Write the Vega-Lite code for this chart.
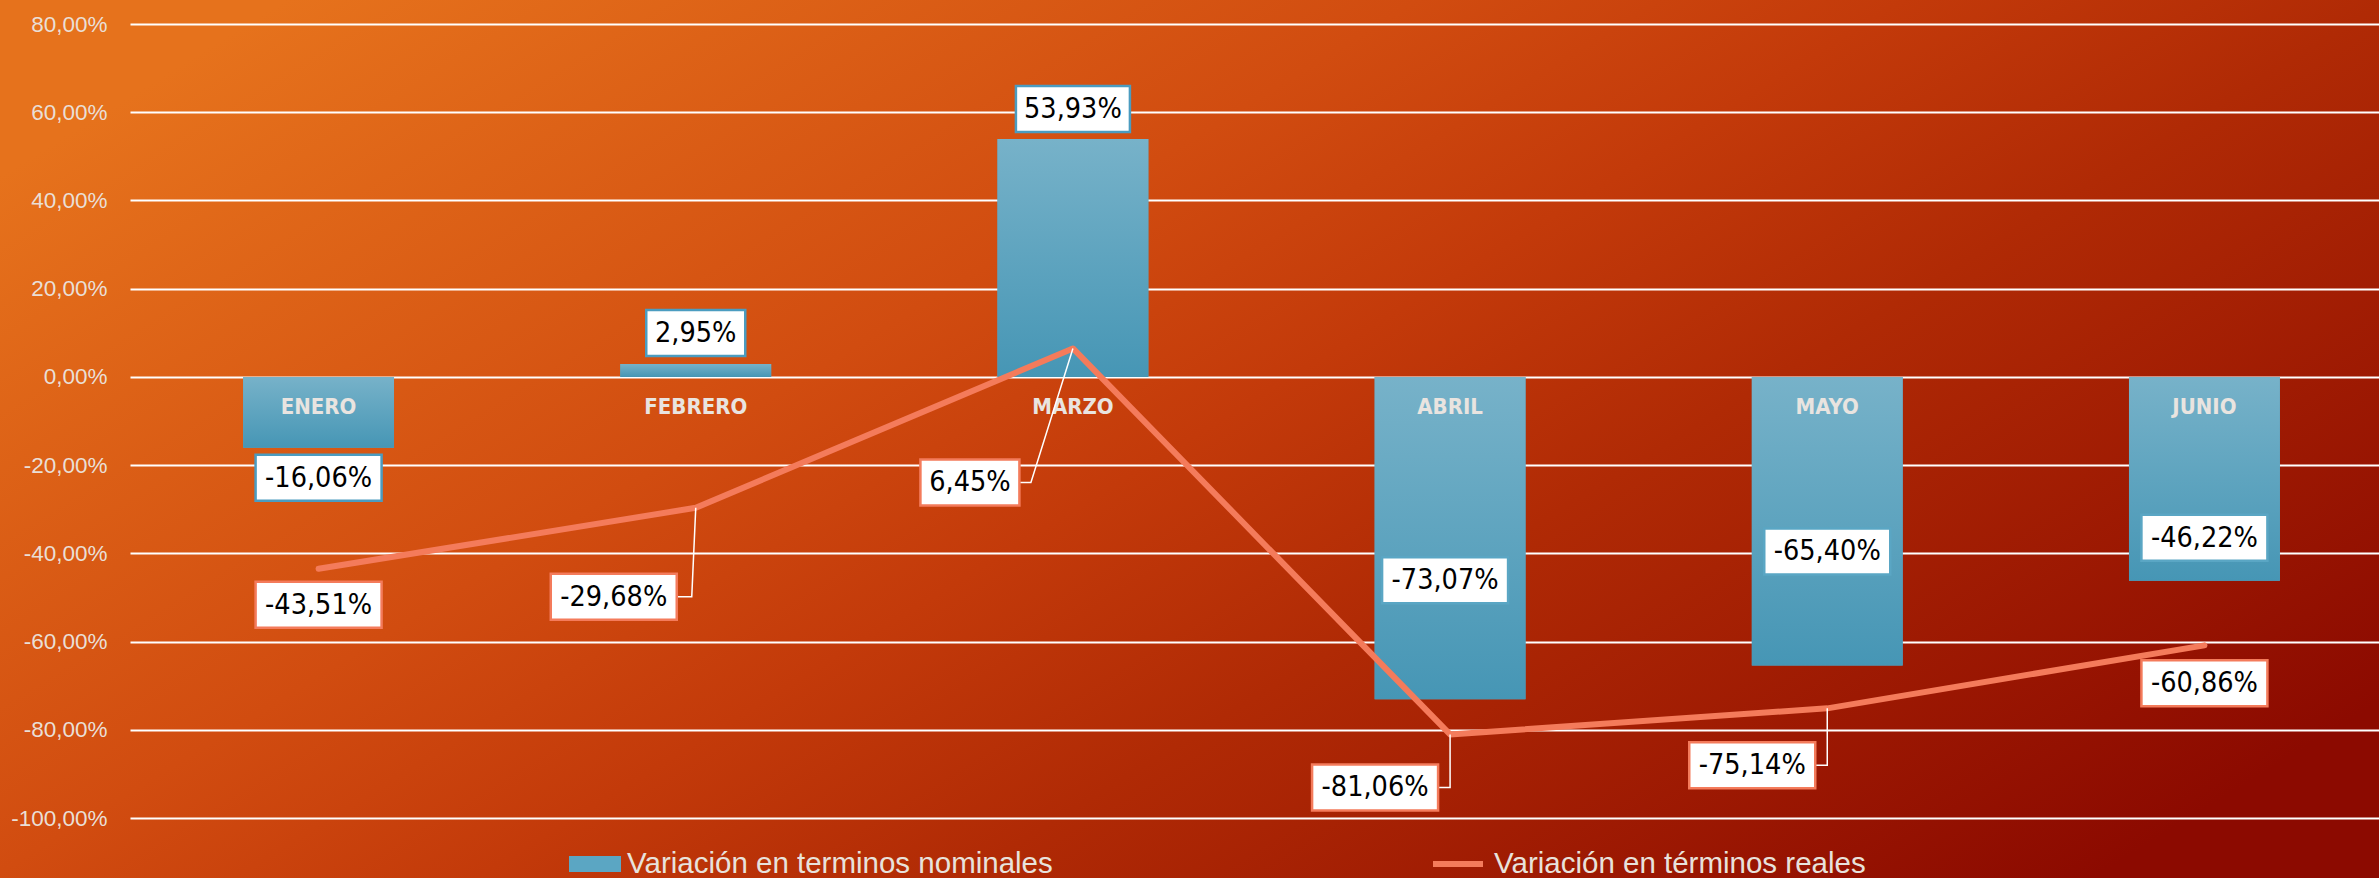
{
  "$schema": "https://vega.github.io/schema/vega-lite/v6.json",
  "width": 2379,
  "height": 878,
  "autosize": {"type": "none"},
  "padding": 0,
  "background": "#c8400e",
  "view": {
    "stroke": null,
    "fill": {
      "gradient": "linear",
      "x1": 0, "y1": 0.2, "x2": 1, "y2": 0.8,
      "stops": [
        {"offset": 0, "color": "#e6721c"},
        {"offset": 0.35, "color": "#d14c10"},
        {"offset": 0.5, "color": "#c33a0a"},
        {"offset": 0.65, "color": "#b02a05"},
        {"offset": 1, "color": "#8c0a00"}
      ]
    }
  },
  "data": {
    "values": [
      {"mes": "ENERO", "nominal": -0.1606, "real": -0.4351},
      {"mes": "FEBRERO", "nominal": 0.0295, "real": -0.2968},
      {"mes": "MARZO", "nominal": 0.5393, "real": 0.0645},
      {"mes": "ABRIL", "nominal": -0.7307, "real": -0.8106},
      {"mes": "MAYO", "nominal": -0.654, "real": -0.7514},
      {"mes": "JUNIO", "nominal": -0.4622, "real": -0.6086}
    ]
  },
  "encoding": {
    "x": {
      "field": "mes",
      "type": "nominal",
      "sort": null,
      "axis": null,
      "scale": {"range": [130, 2393], "paddingInner": 0.6, "paddingOuter": 0.3}
    }
  },
  "layer": [
    {
      "mark": {"type": "bar"},
      "encoding": {
        "y": {
          "field": "nominal",
          "type": "quantitative",
          "scale": {"domain": [-1, 0.8], "range": [818, 24], "nice": false, "zero": false},
          "axis": {
            "title": null,
            "orient": "left",
            "offset": -107,
            "values": [-1, -0.8, -0.6, -0.4, -0.2, 0, 0.2, 0.4, 0.6, 0.8],
            "format": ".2%",
            "ticks": false,
            "tickSize": 0,
            "domain": false,
            "labelPadding": 0,
            "labelAlign": "right",
            "labelFont": "Liberation Sans",
            "labelFontSize": 22.5,
            "labelColor": "#eadfd6",
            "grid": true,
            "gridColor": "#ffffff",
            "gridWidth": 2,
            "gridOpacity": 1
          }
        },
        "fill": {
          "datum": "Variación en terminos nominales",
          "type": "nominal",
          "scale": {"range": ["#5ba6c3"]},
          "legend": {
            "title": null,
            "orient": "none",
            "legendX": 569,
            "legendY": 838,
            "padding": 0,
            "symbolType": "M-1,-0.31H1V0.31H-1Z",
            "symbolSize": 2704,
            "symbolStrokeWidth": 0,
            "labelFont": "Liberation Sans",
            "labelFontSize": 29.5,
            "labelColor": "#e8e2dc",
            "labelOffset": 6,
            "labelLimit": 0
          }
        }
      }
    },
    {
      "mark": {
        "type": "bar",
        "color": {
          "gradient": "linear",
          "x1": 0, "y1": 0, "x2": 0, "y2": 1,
          "stops": [
            {"offset": 0, "color": "#77b2c9"},
            {"offset": 1, "color": "#4696b5"}
          ]
        }
      },
      "encoding": {"y": {"field": "nominal", "type": "quantitative", "axis": {"title": null}}}
    },
    {
      "mark": {
        "type": "text",
        "dy": 30,
        "font": "DejaVu Sans Condensed",
        "fontWeight": "bold",
        "fontSize": 22,
        "color": "#e9e4e0"
      },
      "encoding": {
        "y": {"datum": 0, "type": "quantitative", "axis": {"title": null}},
        "text": {"field": "mes", "type": "nominal"}
      }
    },
    {
      "mark": {"type": "line", "strokeWidth": 6, "strokeCap": "round", "strokeJoin": "round"},
      "encoding": {
        "y": {"field": "real", "type": "quantitative", "axis": {"title": null}},
        "stroke": {
          "datum": "Variación en términos reales",
          "type": "nominal",
          "scale": {"range": ["#f47b5b"]},
          "legend": {
            "title": null,
            "orient": "none",
            "legendX": 1430,
            "legendY": 836,
            "padding": 0,
            "symbolType": "stroke",
            "symbolSize": 2500,
            "symbolStrokeWidth": 6,
            "labelFont": "Liberation Sans",
            "labelFontSize": 29.5,
            "labelColor": "#e8e2dc",
            "labelOffset": 8,
            "labelLimit": 0
          }
        }
      }
    },
    {
      "transform": [{"filter": "datum.mes === 'ENERO'"}],
      "encoding": {"y": {"field": "nominal", "type": "quantitative", "axis": {"title": null}}},
      "layer": [
        {"mark": {"type": "point", "shape": "M-63,7H63V53H-63Z", "size": 4, "filled": true, "fill": "#ffffff", "stroke": "#4b9cc0", "strokeWidth": 2.5, "opacity": 1}},
        {"mark": {"type": "text", "dy": 30, "font": "DejaVu Sans Condensed", "fontSize": 28.5, "color": "#000000"},
         "encoding": {"text": {"field": "nominal", "type": "quantitative", "format": ".2%"}}}
      ]
    },
    {
      "transform": [{"filter": "datum.mes === 'FEBRERO'"}],
      "encoding": {"y": {"field": "nominal", "type": "quantitative", "axis": {"title": null}}},
      "layer": [
        {"mark": {"type": "point", "shape": "M-49.5,-54H49.5V-8H-49.5Z", "size": 4, "filled": true, "fill": "#ffffff", "stroke": "#4b9cc0", "strokeWidth": 2.5, "opacity": 1}},
        {"mark": {"type": "text", "dy": -31, "font": "DejaVu Sans Condensed", "fontSize": 28.5, "color": "#000000"},
         "encoding": {"text": {"field": "nominal", "type": "quantitative", "format": ".2%"}}}
      ]
    },
    {
      "transform": [{"filter": "datum.mes === 'MARZO'"}],
      "encoding": {"y": {"field": "nominal", "type": "quantitative", "axis": {"title": null}}},
      "layer": [
        {"mark": {"type": "point", "shape": "M-57,-53H57V-7H-57Z", "size": 4, "filled": true, "fill": "#ffffff", "stroke": "#4b9cc0", "strokeWidth": 2.5, "opacity": 1}},
        {"mark": {"type": "text", "dy": -30, "font": "DejaVu Sans Condensed", "fontSize": 28.5, "color": "#000000"},
         "encoding": {"text": {"field": "nominal", "type": "quantitative", "format": ".2%"}}}
      ]
    },
    {
      "transform": [{"filter": "datum.mes === 'ABRIL'"}],
      "encoding": {"y": {"field": "nominal", "type": "quantitative", "axis": {"title": null}}},
      "layer": [
        {"mark": {"type": "point", "shape": "M-68,-142H58V-96H-68Z", "size": 4, "filled": true, "fill": "#ffffff", "stroke": "#5aa6c4", "strokeWidth": 2.5, "opacity": 1}},
        {"mark": {"type": "text", "dx": -5, "dy": -119, "font": "DejaVu Sans Condensed", "fontSize": 28.5, "color": "#000000"},
         "encoding": {"text": {"field": "nominal", "type": "quantitative", "format": ".2%"}}}
      ]
    },
    {
      "transform": [{"filter": "datum.mes === 'MAYO'"}],
      "encoding": {"y": {"field": "nominal", "type": "quantitative", "axis": {"title": null}}},
      "layer": [
        {"mark": {"type": "point", "shape": "M-63,-137H63V-91H-63Z", "size": 4, "filled": true, "fill": "#ffffff", "stroke": "#5aa6c4", "strokeWidth": 2.5, "opacity": 1}},
        {"mark": {"type": "text", "dy": -114, "font": "DejaVu Sans Condensed", "fontSize": 28.5, "color": "#000000"},
         "encoding": {"text": {"field": "nominal", "type": "quantitative", "format": ".2%"}}}
      ]
    },
    {
      "transform": [{"filter": "datum.mes === 'JUNIO'"}],
      "encoding": {"y": {"field": "nominal", "type": "quantitative", "axis": {"title": null}}},
      "layer": [
        {"mark": {"type": "point", "shape": "M-63,-66H63V-20H-63Z", "size": 4, "filled": true, "fill": "#ffffff", "stroke": "#5aa6c4", "strokeWidth": 2.5, "opacity": 1}},
        {"mark": {"type": "text", "dy": -43, "font": "DejaVu Sans Condensed", "fontSize": 28.5, "color": "#000000"},
         "encoding": {"text": {"field": "nominal", "type": "quantitative", "format": ".2%"}}}
      ]
    },
    {
      "transform": [{"filter": "datum.mes === 'ENERO'"}],
      "encoding": {"y": {"field": "real", "type": "quantitative", "axis": {"title": null}}},
      "layer": [
        {"mark": {"type": "point", "shape": "M-63,13H63V59H-63Z", "size": 4, "filled": true, "fill": "#ffffff", "stroke": "#f47b5b", "strokeWidth": 2.5, "opacity": 1}},
        {"mark": {"type": "text", "dy": 36, "font": "DejaVu Sans Condensed", "fontSize": 28.5, "color": "#000000"},
         "encoding": {"text": {"field": "real", "type": "quantitative", "format": ".2%"}}}
      ]
    },
    {
      "transform": [{"filter": "datum.mes === 'FEBRERO'"}],
      "encoding": {"y": {"field": "real", "type": "quantitative", "axis": {"title": null}}},
      "layer": [
        {"mark": {"type": "point", "shape": "M0,0L-4,89H-19", "size": 4, "filled": false, "stroke": "#ffffff", "strokeWidth": 1.5, "opacity": 1}},
        {"mark": {"type": "point", "shape": "M-145,66H-19V112H-145Z", "size": 4, "filled": true, "fill": "#ffffff", "stroke": "#f47b5b", "strokeWidth": 2.5, "opacity": 1}},
        {"mark": {"type": "text", "dx": -82, "dy": 89, "font": "DejaVu Sans Condensed", "fontSize": 28.5, "color": "#000000"},
         "encoding": {"text": {"field": "real", "type": "quantitative", "format": ".2%"}}}
      ]
    },
    {
      "transform": [{"filter": "datum.mes === 'MARZO'"}],
      "encoding": {"y": {"field": "real", "type": "quantitative", "axis": {"title": null}}},
      "layer": [
        {"mark": {"type": "point", "shape": "M0,0L-42,134H-54", "size": 4, "filled": false, "stroke": "#ffffff", "strokeWidth": 1.5, "opacity": 1}},
        {"mark": {"type": "point", "shape": "M-152.5,111H-53.5V157H-152.5Z", "size": 4, "filled": true, "fill": "#ffffff", "stroke": "#f47b5b", "strokeWidth": 2.5, "opacity": 1}},
        {"mark": {"type": "text", "dx": -103, "dy": 134, "font": "DejaVu Sans Condensed", "fontSize": 28.5, "color": "#000000"},
         "encoding": {"text": {"field": "real", "type": "quantitative", "format": ".2%"}}}
      ]
    },
    {
      "transform": [{"filter": "datum.mes === 'ABRIL'"}],
      "encoding": {"y": {"field": "real", "type": "quantitative", "axis": {"title": null}}},
      "layer": [
        {"mark": {"type": "point", "shape": "M0,0V53H-12", "size": 4, "filled": false, "stroke": "#ffffff", "strokeWidth": 1.5, "opacity": 1}},
        {"mark": {"type": "point", "shape": "M-138,30H-12V76H-138Z", "size": 4, "filled": true, "fill": "#ffffff", "stroke": "#f47b5b", "strokeWidth": 2.5, "opacity": 1}},
        {"mark": {"type": "text", "dx": -75, "dy": 53, "font": "DejaVu Sans Condensed", "fontSize": 28.5, "color": "#000000"},
         "encoding": {"text": {"field": "real", "type": "quantitative", "format": ".2%"}}}
      ]
    },
    {
      "transform": [{"filter": "datum.mes === 'MAYO'"}],
      "encoding": {"y": {"field": "real", "type": "quantitative", "axis": {"title": null}}},
      "layer": [
        {"mark": {"type": "point", "shape": "M0,0V57H-12", "size": 4, "filled": false, "stroke": "#ffffff", "strokeWidth": 1.5, "opacity": 1}},
        {"mark": {"type": "point", "shape": "M-138,34H-12V80H-138Z", "size": 4, "filled": true, "fill": "#ffffff", "stroke": "#f47b5b", "strokeWidth": 2.5, "opacity": 1}},
        {"mark": {"type": "text", "dx": -75, "dy": 57, "font": "DejaVu Sans Condensed", "fontSize": 28.5, "color": "#000000"},
         "encoding": {"text": {"field": "real", "type": "quantitative", "format": ".2%"}}}
      ]
    },
    {
      "transform": [{"filter": "datum.mes === 'JUNIO'"}],
      "encoding": {"y": {"field": "real", "type": "quantitative", "axis": {"title": null}}},
      "layer": [
        {"mark": {"type": "point", "shape": "M-63,15H63V61H-63Z", "size": 4, "filled": true, "fill": "#ffffff", "stroke": "#f47b5b", "strokeWidth": 2.5, "opacity": 1}},
        {"mark": {"type": "text", "dy": 38, "font": "DejaVu Sans Condensed", "fontSize": 28.5, "color": "#000000"},
         "encoding": {"text": {"field": "real", "type": "quantitative", "format": ".2%"}}}
      ]
    }
  ],
  "config": {
    "locale": {
      "number": {
        "decimal": ",",
        "thousands": ".",
        "grouping": [3],
        "currency": ["", " €"],
        "minus": "-",
        "percent": "%"
      }
    }
  }
}
